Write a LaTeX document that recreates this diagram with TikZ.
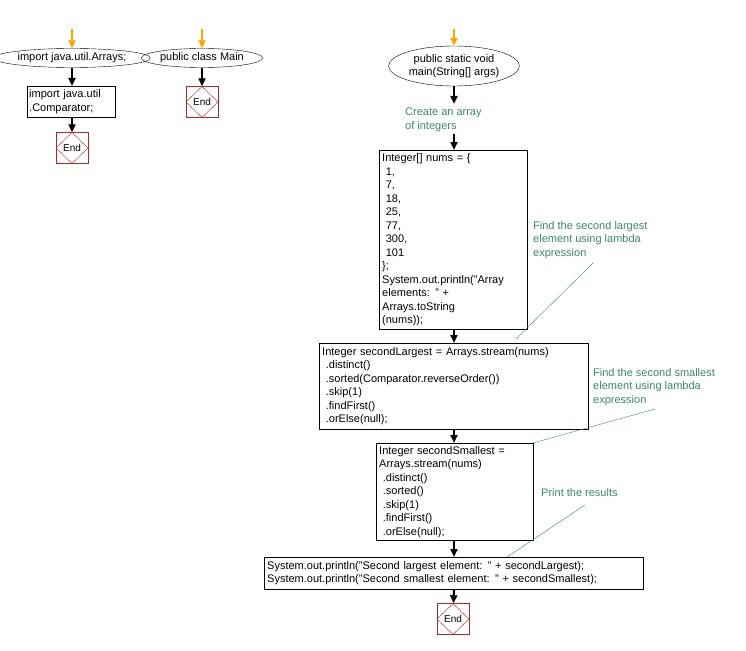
\documentclass[tikz,border=0pt]{standalone}
\usepackage{fontspec}
\setmainfont{Liberation Sans}
\usetikzlibrary{arrows.meta,shapes.geometric,positioning}
\definecolor{notegreen}{RGB}{61,133,108}
\definecolor{endred}{RGB}{170,40,40}
\definecolor{startorange}{RGB}{255,165,0}
\tikzset{
    base/.style = {font=\fontsize{11}{13.5}\selectfont, inner sep=2pt},
    term/.style = {base, ellipse, draw=black, inner sep=1pt, align=center},
    stmt/.style = {base, rectangle, draw=black, align=left, anchor=north west},
    note/.style = {base, notegreen, align=left, anchor=north west},
    endbox/.style = {base, rectangle, draw=endred, minimum width=32pt, minimum height=31pt},
    enddia/.style = {diamond, draw=endred, minimum width=32pt, minimum height=31pt, inner sep=0pt},
    flow/.style = {-{Triangle[width=7pt,length=8pt]}, line width=2.2pt},
    start/.style = {flow, startorange},
    link/.style = {notegreen, thin}
}
\begin{document}
\begin{tikzpicture}[x=1pt,y=-1pt]
    \useasboundingbox (0,0) rectangle (746,650);
    % left column
    \coordinate (s1) at (72,29);
    \node [term, minimum width=135pt, minimum height=19pt] (arrays) at (72,58) {import java.util.Arrays;};
    \node [stmt, text width=84pt, minimum height=31pt] (comp) at (27,86) {import java.util\\.Comparator;};
    \node [endbox] (end1) at (72,148) {};
    \node [enddia] at (end1) {End};
    \draw [start] (s1) -- (arrays);
    \draw [flow] (arrays) -- (comp.north -| arrays);
    \draw [flow] (comp.south -| arrays) -- (end1);
    % class
    \coordinate (s2) at (202,29);
    \node [term, minimum width=112pt, minimum height=19pt] (cls) at (202,58) {public class Main};
    \node [endbox] (end2) at (202,102) {};
    \node [enddia] at (end2) {End};
    \draw [start] (s2) -- (cls);
    \draw [flow] (cls) -- (end2);
    % main
    \coordinate (s3) at (454,29);
    \node [term, minimum width=124pt, minimum height=40pt] (main) at (454,66) {public static void\\main(String[] args)};
    \node [note] (n1) at (403,106) {Create an array\\of integers};
    \coordinate (n1top) at (454,104);
    \coordinate (n1bot) at (454,134);
    \node [stmt, text width=142pt, minimum width=148pt, minimum height=179pt] (nums) at (379,150)
        {Integer[] nums = \{\\\ 1,\\\ 7,\\\ 18,\\\ 25,\\\ 77,\\\ 300,\\\ 101\\\};\\System.out.println("Array\\elements: " +\\Arrays.toString\\(nums));};
    \node [stmt, text width=263pt, minimum width=269pt, minimum height=86pt] (large) at (319,343)
        {Integer secondLargest = Arrays.stream(nums)\\\ .distinct()\\\ .sorted(Comparator.reverseOrder())\\\ .skip(1)\\\ .findFirst()\\\ .orElse(null);};
    \node [stmt, text width=151pt, minimum width=157pt, minimum height=97pt] (small) at (376,443)
        {Integer secondSmallest =\\Arrays.stream(nums)\\\ .distinct()\\\ .sorted()\\\ .skip(1)\\\ .findFirst()\\\ .orElse(null);};
    \node [stmt, text width=373pt, minimum width=379pt, minimum height=32pt] (print) at (264,557)
        {System.out.println("Second largest element: " + secondLargest);\\System.out.println("Second smallest element: " + secondSmallest);};
    \node [endbox] (end3) at (453,619) {};
    \node [enddia] at (end3) {End};
    \draw [start] (s3) -- (main);
    \draw [flow] (main) -- (n1top);
    \draw [flow] (n1bot) -- (nums.north -| n1bot);
    \draw [flow] (nums.south -| n1bot) -- (large.north -| n1bot);
    \draw [flow] (large.south -| n1bot) -- (small.north -| n1bot);
    \draw [flow] (small.south -| n1bot) -- (print.north -| n1bot);
    \draw [flow] (print.south -| n1bot) -- (end3);
    % notes
    \node [note] (n2) at (531,219) {Find the second largest\\element using lambda\\expression};
    \node [note] (n3) at (591,366) {Find the second smallest\\element using lambda\\expression};
    \node [note] (n4) at (539,486) {Print the results};
    \coordinate (c2) at (516,339);
    \coordinate (c3) at (533,443);
    \coordinate (c4) at (507,557);
    \draw [link] (593,263) -- (c2);
    \draw [link] (655,409) -- (c3);
    \draw [link] (585,505) -- (c4);
\end{tikzpicture}
\end{document}
